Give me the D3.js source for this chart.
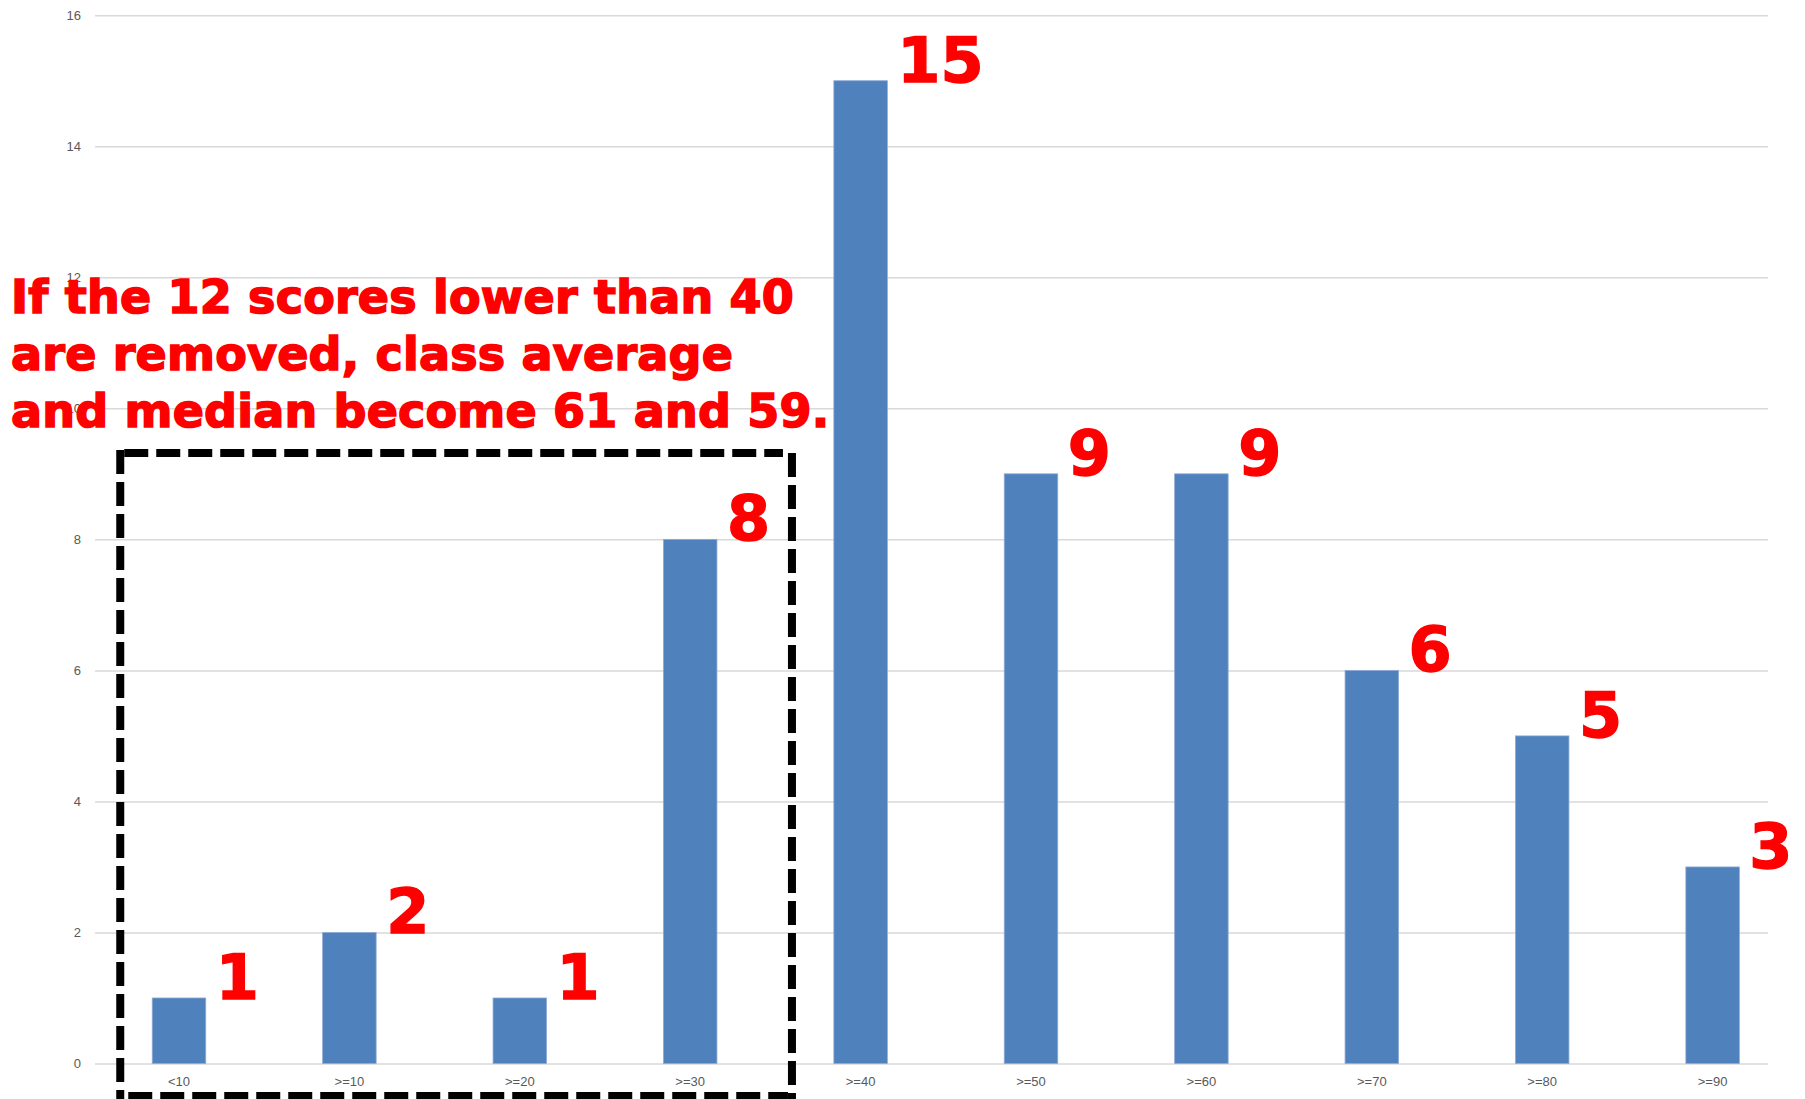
<!DOCTYPE html>
<html>
<head>
<meta charset="utf-8">
<script src="https://cdn.jsdelivr.net/npm/d3@7"></script>
<style>
  html, body { margin: 0; padding: 0; background: #ffffff; }
  svg { display: block; }
</style>
</head>
<body>
<svg id="chart" width="1805" height="1099"></svg>
<script>
// Score distribution: number of students in each 10-point band
const categories = ["<10", ">=10", ">=20", ">=30", ">=40", ">=50", ">=60", ">=70", ">=80", ">=90"];
const counts = [1, 2, 1, 8, 15, 9, 9, 6, 5, 3];
const yTicks = [0, 2, 4, 6, 8, 10, 12, 14, 16];
const noteLines = [
  "If the 12 scores lower than 40",
  "are removed, class average",
  "and median become 61 and 59."
];
const boxedCategories = ["<10", ">=10", ">=20", ">=30"];

const W = 1805, H = 1099;
const svg = d3.select("#chart");

const gridLeft = 95, gridRight = 1768;

const x = d3.scaleBand()
  .domain(categories)
  .range([93.8, 1797.8])
  .paddingInner(0.686)
  .paddingOuter(0.343);

const y = d3.scaleLinear()
  .domain([0, 16])
  .range([1063.5, 15.2]);

// horizontal gridlines + value labels
const yAxis = svg.append("g")
  .attr("transform", `translate(${gridLeft},0)`)
  .call(d3.axisLeft(y).tickValues(yTicks).tickSize(-(gridRight - gridLeft)).tickPadding(14).tickFormat(d3.format("d")));
yAxis.select(".domain").remove();
yAxis.selectAll(".tick line").attr("stroke", "#d9d9d9").attr("stroke-width", 1.5);
yAxis.selectAll(".tick text")
  .attr("fill", "#595959")
  .style("font-family", "'Liberation Sans', Arial, sans-serif")
  .style("font-size", "13px");

// category labels under the bars
const xAxis = svg.append("g")
  .attr("transform", `translate(0,${y(0)})`)
  .call(d3.axisBottom(x).tickSize(0));
xAxis.select(".domain").remove();
xAxis.selectAll(".tick text")
  .attr("y", 22)
  .attr("dy", 0)
  .attr("fill", "#595959")
  .style("font-family", "'Liberation Sans', Arial, sans-serif")
  .style("font-size", "13px");

// bars
svg.append("g")
  .selectAll("rect")
  .data(counts)
  .join("rect")
  .attr("x", (d, i) => x(categories[i]))
  .attr("y", d => y(d))
  .attr("width", x.bandwidth())
  .attr("height", d => y(0) - y(d))
  .attr("fill", "#4f81bd")
  .attr("stroke", "#8eaad6")
  .attr("stroke-width", 0.8);

// big red count next to each bar
svg.append("g")
  .selectAll("text")
  .data(counts)
  .join("text")
  .attr("x", (d, i) => x(categories[i]) + x.bandwidth() + 10)
  .attr("y", d => y(d) + 1)
  .attr("fill", "#ff0000")
  .attr("stroke", "#ff0000")
  .attr("stroke-width", 1.4)
  .style("font-family", "'DejaVu Sans', sans-serif")
  .style("font-weight", "bold")
  .style("font-size", "62px")
  .text(d => d);

// dashed frame around the lowest four bands
const first = boxedCategories[0], last = boxedCategories[boxedCategories.length - 1];
const boxLeft = x(first) - 32;
const boxRight = x(last) + x.bandwidth() + 75;
const boxTop = 453;
const boxBottom = 1096;
const frame = svg.append("g")
  .attr("stroke", "#000")
  .attr("stroke-width", 8)
  .attr("stroke-dasharray", "24 8")
  .attr("fill", "none");
frame.append("line").attr("x1", boxLeft + 4).attr("y1", boxTop).attr("x2", boxRight - 9).attr("y2", boxTop);
frame.append("line").attr("x1", boxLeft).attr("y1", boxTop - 3).attr("x2", boxLeft).attr("y2", H + 4);
frame.append("line").attr("x1", boxRight).attr("y1", boxTop).attr("x2", boxRight).attr("y2", H + 4);
frame.append("line").attr("x1", boxLeft + 8).attr("y1", boxBottom).attr("x2", boxRight - 4).attr("y2", boxBottom);

// note text, drawn over the gridlines and their labels
svg.append("g")
  .selectAll("text")
  .data(noteLines)
  .join("text")
  .attr("x", 11)
  .attr("y", (d, i) => 313 + i * 57)
  .attr("fill", "#ff0000")
  .attr("stroke", "#ff0000")
  .attr("stroke-width", 1.6)
  .style("font-family", "'DejaVu Sans', sans-serif")
  .style("font-weight", "bold")
  .style("font-size", "46px")
  .style("letter-spacing", "0.2px")
  .text(d => d);
</script>
</body>
</html>
